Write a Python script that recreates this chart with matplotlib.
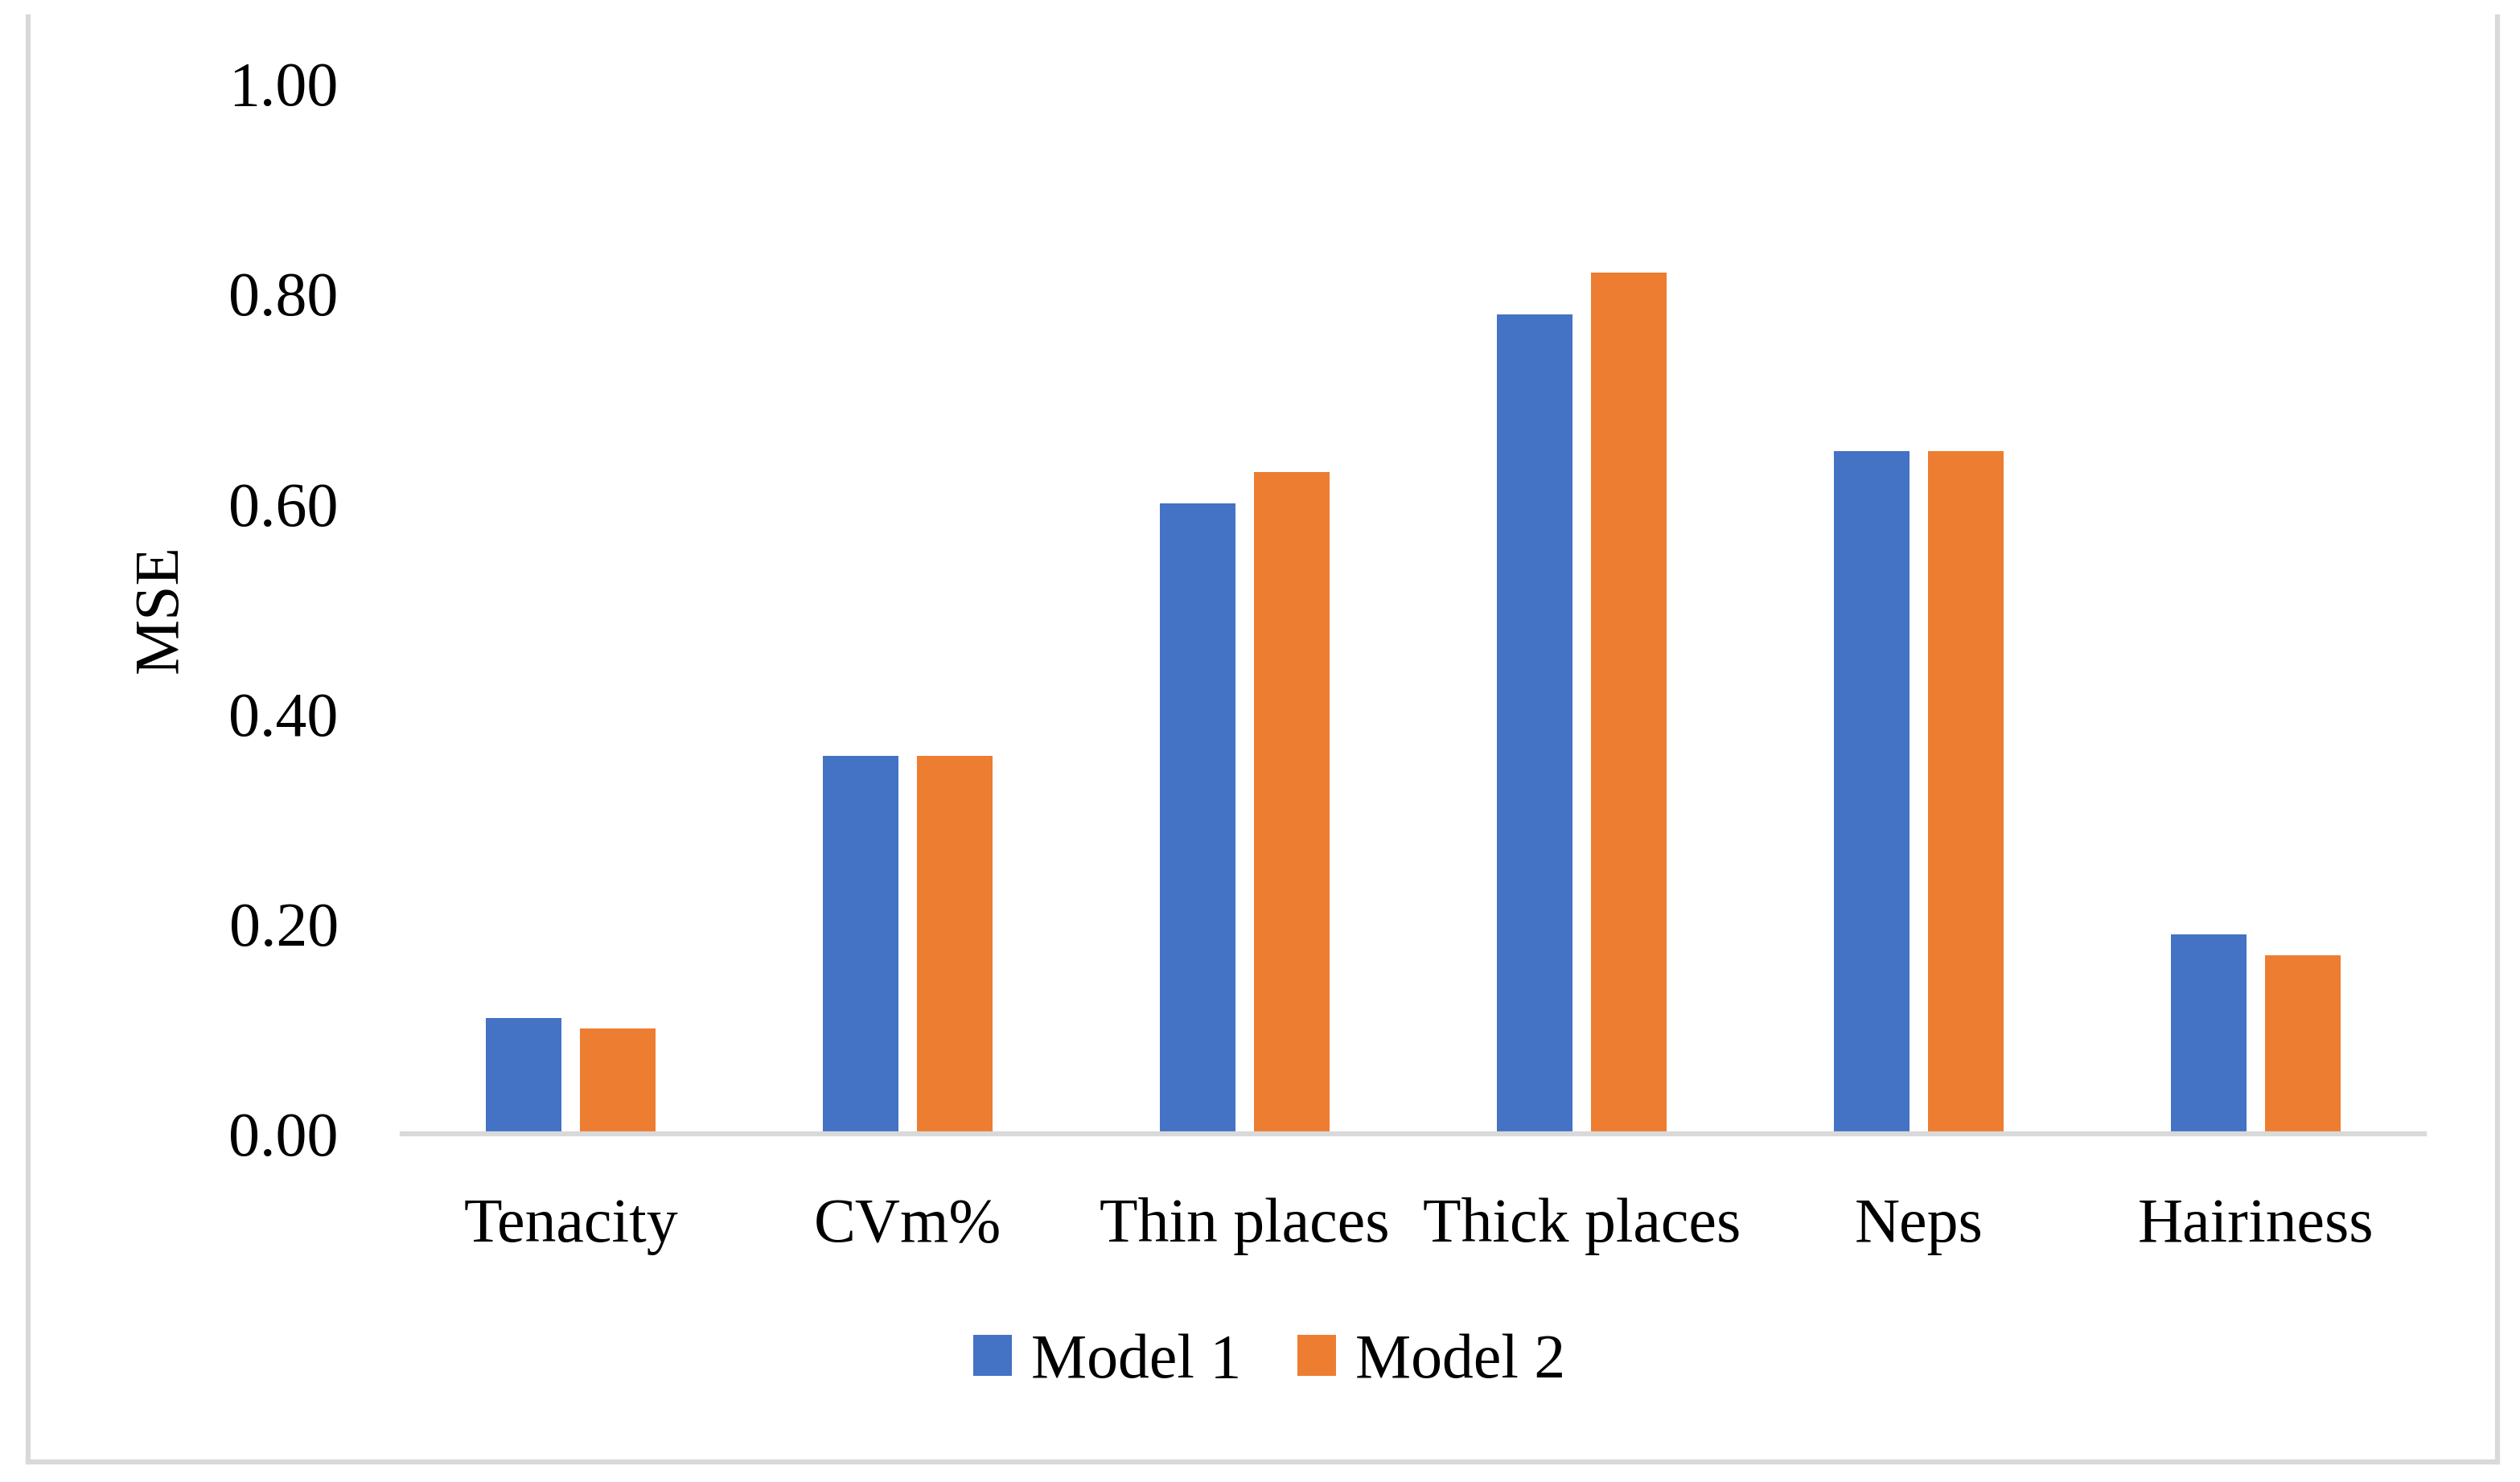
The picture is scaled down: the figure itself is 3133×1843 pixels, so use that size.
import numpy as np
import matplotlib
matplotlib.use('Agg')
import matplotlib.pyplot as plt
from matplotlib.lines import Line2D

plt.rcParams['font.family'] = ['Liberation Serif', 'DejaVu Serif']

categories = ['Tenacity', 'CVm%', 'Thin places', 'Thick places', 'Neps', 'Hairiness']
model1 = [0.11, 0.36, 0.60, 0.78, 0.65, 0.19]
model2 = [0.10, 0.36, 0.63, 0.82, 0.65, 0.17]
series_names = ['Model 1', 'Model 2']
yticks = [0.0, 0.2, 0.4, 0.6, 0.8, 1.0]

c1, c2 = '#4472C4', '#ED7D31'
grey = '#d9d9d9'
fs = 56

W, H = 3133, 1843
fig = plt.figure(figsize=(W/100, H/100), dpi=100)
ax = fig.add_axes([500/W, 1-1410/H, (3014-500)/W, (1410-104)/H])

x = np.arange(len(categories))
bw, gap = 0.224, 0.057
off = (bw + gap)/2
ax.bar(x - off, model1, bw, color=c1, label=series_names[0])
ax.bar(x + off, model2, bw, color=c2, label=series_names[1])

ax.set_xlim(-0.5, len(categories)-0.5)
ax.set_ylim(0, 1.0)
ax.set_yticks(yticks)
ax.set_yticklabels(['%.2f' % v for v in yticks], fontsize=fs)
ax.set_xticks(x)
ax.set_xticklabels(categories, fontsize=fs)
ax.tick_params(axis='y', length=0, pad=57)
ax.tick_params(axis='x', length=0, pad=57)
for s in ['top', 'right', 'left']:
    ax.spines[s].set_visible(False)
ax.spines['bottom'].set_color(grey)
ax.spines['bottom'].set_linewidth(4.5)
ax.set_ylabel('MSE', fontsize=fs, labelpad=34)

leg = fig.legend(loc='center', bbox_to_anchor=(1578/W, 1-1694/H), ncol=2, frameon=False,
                 fontsize=fs, handlelength=0.62, handleheight=0.62, handletextpad=0.3,
                 columnspacing=0.9)

# outer chart border (left, bottom, right)
lx, rx, by, ty = 35/W, 3105/W, 1-1818/H, 1-21/H
for xs, ys in [([lx, lx], [by, ty]), ([lx, rx], [by, by]), ([rx, rx], [by, ty])]:
    fig.add_artist(Line2D(xs, ys, color=grey, lw=4.5, transform=fig.transFigure))

plt.savefig('out.png', dpi=100)
